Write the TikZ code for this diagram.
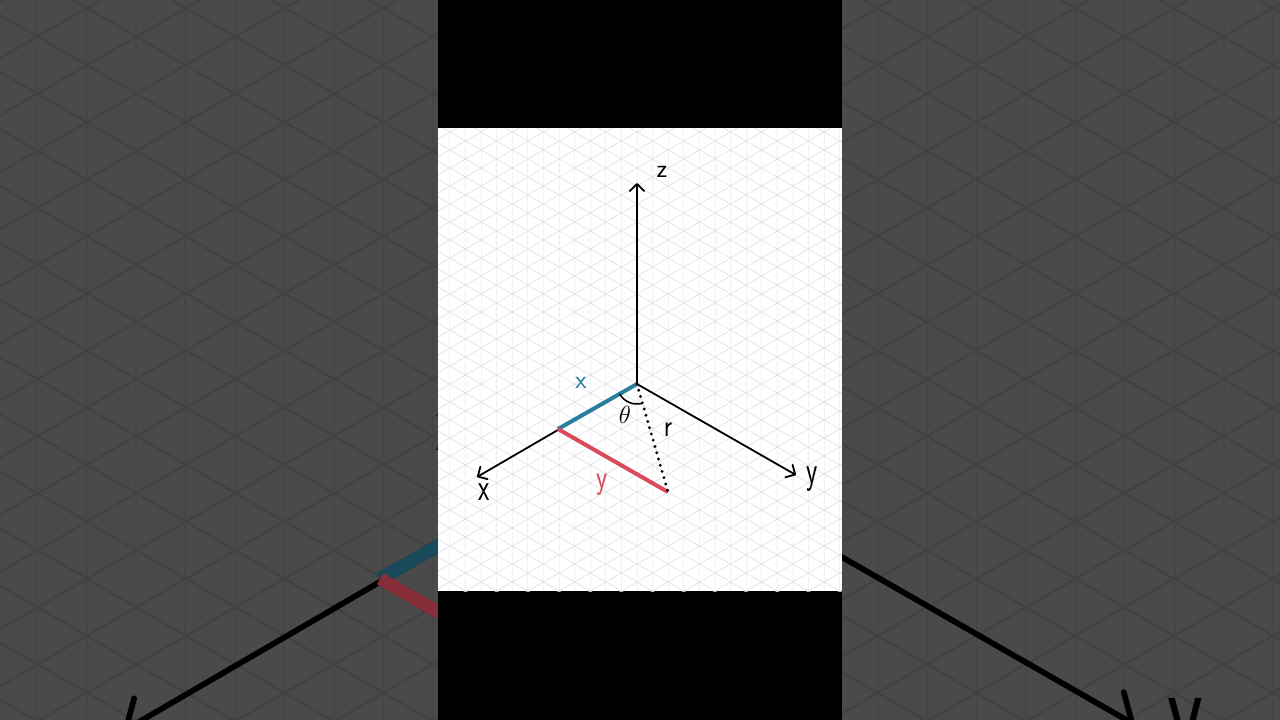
\documentclass[tikz,border=0pt]{standalone}
\usetikzlibrary{arrows.meta}
\definecolor{gridline}{HTML}{DFE4EB}
\definecolor{gridvert}{HTML}{F0F2F5}
\definecolor{xpart}{HTML}{2A7F9E}
\definecolor{ypart}{HTML}{D94A5A}
\def\sc{1}
% the whole drawing, used twice (blurred background and the panel)
\newcommand{\axescene}{%
  % grid
  \foreach \n in {-13,...,13}
    {\draw[vgrid] ({637+\n*15.6},128) -- ({637+\n*15.6},591);}
  \foreach \k in {-21,...,21}
    {\draw[igrid] (438,{384+\k*18-199*0.5774}) -- (842,{384+\k*18+205*0.5774});
     \draw[igrid] (438,{384+\k*18+199*0.5774}) -- (842,{384+\k*18-205*0.5774});}
  % points
  \coordinate (O) at (637,384);
  \coordinate (zt) at (637,183);
  \coordinate (yt) at (796,475);
  \coordinate (xt) at (477,477);
  \coordinate (Q) at (558,429);
  \coordinate (P) at (668,492);
  % axes
  \draw[axisline] (O) -- (zt);
  \draw[axisline] (O) -- (yt);
  \draw[axisline] (O) -- (xt);
  \draw[seg,xpart] (O) -- (Q);
  \draw[seg,ypart] (Q) -- (P);
  \draw[dots] (O) -- (P);
  \draw[line width=\sc*1.6pt] (O) ++(150:20) arc[start angle=150,end angle=76,radius=20];
  % labels
  \node[lbl] (zl) at (662,172) {z};
  \node[lbl,yscale=1.5] (yl) at (812,479) {y};
  \node[lbl,yscale=1.5] (xl) at (484,492) {x};
  \node[lbl,text=xpart] (xs) at (581,383) {x};
  \node[lbl,text=ypart,yscale=1.3] (ys) at (602,485) {y};
  \node[lbl] (th) at (625,415) {$\theta$};
  \node[lbl,yscale=1.2] (rl) at (668,430) {r};
}
\begin{document}
\begin{tikzpicture}[x=1pt,y=-1pt,
  vgrid/.style={gridvert,line width=\sc*0.7pt},
  igrid/.style={gridline,line width=\sc*0.7pt},
  axisline/.style={line width=\sc*1.8pt,-{Straight Barb[length=0pt 4,width=0pt 8,round]}},
  seg/.style={line width=\sc*4pt},
  dots/.style={line width=\sc*3.2pt,line cap=round,dash pattern=on 0pt off \sc*6.5pt},
  lbl/.style={inner sep=0pt,font=\sffamily\fontsize{26}{28}\selectfont}]
  \useasboundingbox (0,0) rectangle (1280,720);
  % background: the panel blown up and darkened
  \begin{scope}
    \clip (0,0) rectangle (1280,720);
    \begin{scope}[shift={(640,360)},scale=3.17,shift={(-640,-360)},
      every node/.append style={transform shape}]
      \def\sc{3.17}
      \fill[white] (438,128) rectangle (842,591);
      \axescene
    \end{scope}
    \fill[black,fill opacity=0.71] (0,0) rectangle (1280,720);
    % colour parts keep more of their colour
    \draw[line width=12.7pt,xpart!58!black] (O) -- (Q);
    \draw[line width=12.7pt,ypart!62!black] (Q) -- (P);
  \end{scope}
  % middle strip
  \fill[black] (438,0) rectangle (842,720);
  \begin{scope}
    \clip (438,128) rectangle (842,591);
    \fill[white] (438,128) rectangle (842,591);
    \axescene
  \end{scope}
\end{tikzpicture}
\end{document}
